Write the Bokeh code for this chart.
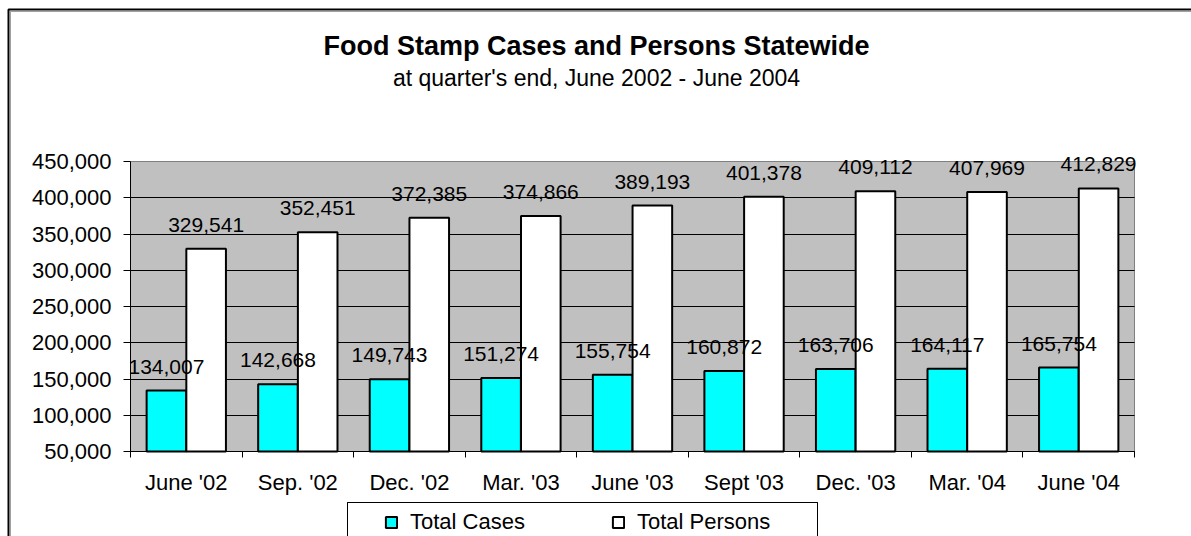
from bokeh.plotting import figure
from bokeh.models import (ColumnDataSource, FixedTicker, NumeralTickFormatter, Label,
                          LabelSet, Legend, LegendItem, PolyAnnotation, Range1d)
from bokeh.core.properties import value
from bokeh.embed import file_html
from bokeh.resources import INLINE

# Quarter-end food stamp counts, statewide
quarters = ["June '02", "Sep. '02", "Dec. '02", "Mar. '03", "June '03",
            "Sept '03", "Dec. '03", "Mar. '04", "June '04"]
total_cases = [134007, 142668, 149743, 151274, 155754, 160872, 163706, 164117, 165754]
total_persons = [329541, 352451, 372385, 374866, 389193, 401378, 409112, 407969, 412829]
y_ticks = [50000, 100000, 150000, 200000, 250000, 300000, 350000, 400000, 450000]
series_names = ["Total Cases", "Total Persons"]
series_colors = ["#00FFFF", "white"]

FONT = "Liberation Sans"
W, H = 1191, 536
# pixel box of the grey plotting area inside the canvas
AREA_L, AREA_R, AREA_T, AREA_B = 130, 1134, 161, 451
BAR_W = 0.355
OFFSET = 0.178

n = len(quarters)
x_lo, x_hi = -0.5, n - 0.5
y_lo, y_hi = y_ticks[0], y_ticks[-1]

# the frame spans the whole canvas; ranges are widened so the
# grey area lands on its pixel box
px_x = (AREA_R - AREA_L) / (x_hi - x_lo)
px_y = (AREA_B - AREA_T) / (y_hi - y_lo)
x_range = Range1d(x_lo - AREA_L / px_x, x_hi + (W - AREA_R) / px_x)
y_range = Range1d(y_lo - (H - AREA_B) / px_y, y_hi + AREA_T / px_y)

idx = list(range(n))
src = ColumnDataSource(dict(
    idx=idx,
    x_cases=[i - OFFSET for i in idx],
    x_persons=[i + OFFSET for i in idx],
    cases=total_cases,
    persons=total_persons,
    cases_txt=[f"{v:,}" for v in total_cases],
    persons_txt=[f"{v:,}" for v in total_persons],
))

p = figure(width=W, height=H, x_range=x_range, y_range=y_range,
           output_backend="svg", toolbar_location=None,
           min_border=0, min_border_left=0, min_border_right=0,
           min_border_top=0, min_border_bottom=0)
p.background_fill_color = "white"
p.border_fill_color = "white"
p.outline_line_color = None

# grey plotting area, beneath the gridlines
p.quad(left=x_lo, right=x_hi, bottom=y_lo, top=y_hi, fill_color="#C0C0C0",
       line_color="#808080", line_width=1, level="image")

# horizontal gridlines only, limited to the plotting area
p.xgrid.visible = False
p.ygrid.ticker = FixedTicker(ticks=y_ticks[:-1])
p.ygrid.cross_bounds = (x_lo, x_hi)
p.ygrid.grid_line_color = "black"
p.ygrid.grid_line_width = 1

# y axis pinned to the left edge of the plotting area
ya = p.yaxis[0]
ya.fixed_location = x_lo
ya.bounds = (y_lo, y_hi)
ya.ticker = FixedTicker(ticks=y_ticks)
ya.formatter = NumeralTickFormatter(format="0,0")
ya.axis_line_color = "black"
ya.major_tick_line_color = "black"
ya.major_tick_out = 7
ya.major_tick_in = 0
ya.minor_tick_line_color = None
ya.major_label_standoff = 12
ya.major_label_text_font = FONT
ya.major_label_text_font_size = "22px"
ya.major_label_text_color = "black"

# x axis pinned to the bottom: labels at group centres, ticks between groups
xa = p.xaxis[0]
xa.fixed_location = y_lo
xa.bounds = (x_lo, x_hi)
xa.ticker = FixedTicker(ticks=idx, minor_ticks=[i - 0.5 for i in range(n + 1)])
xa.major_label_overrides = {i: q for i, q in enumerate(quarters)}
xa.axis_line_color = "black"
xa.major_tick_line_color = None
xa.major_tick_out = 0
xa.major_tick_in = 0
xa.minor_tick_line_color = "black"
xa.minor_tick_out = 6
xa.minor_tick_in = 0
xa.major_label_standoff = 12
xa.major_label_text_font = FONT
xa.major_label_text_font_size = "22px"
xa.major_label_text_color = "black"

r_cases = p.vbar(x="x_cases", top="cases", bottom=y_lo, width=BAR_W, source=src,
                 fill_color=series_colors[0], line_color="black", line_width=2)
r_persons = p.vbar(x="x_persons", top="persons", bottom=y_lo, width=BAR_W, source=src,
                   fill_color=series_colors[1], line_color="black", line_width=2)

for xcol, ycol, tcol in (("x_cases", "cases", "cases_txt"), ("x_persons", "persons", "persons_txt")):
    p.add_layout(LabelSet(x=xcol, y=ycol, text=tcol, source=src, y_offset=17,
                          text_align="center", text_baseline="alphabetic",
                          text_font=value(FONT), text_font_size="21px", text_color="black"))

# chart titles (screen units count up from the bottom-left corner)
p.add_layout(Label(x=596, y=H - 45, x_units="screen", y_units="screen",
                   text="Food Stamp Cases and Persons Statewide",
                   text_align="center", text_baseline="alphabetic", text_font=FONT,
                   text_font_style="bold", text_font_size="27px", text_color="black"))
p.add_layout(Label(x=596, y=H - 77, x_units="screen", y_units="screen",
                   text="at quarter's end, June 2002 - June 2004",
                   text_align="center", text_baseline="alphabetic", text_font=FONT,
                   text_font_size="23px", text_color="black"))


def open_path(points, color, lw):
    """Line through canvas-pixel points (top-left origin); the path walks back
    over itself so no closing edge is drawn."""
    pts = points + points[-2:0:-1]
    return PolyAnnotation(xs=[x for x, _ in pts], ys=[H - y for _, y in pts],
                          xs_units="screen", ys_units="screen",
                          fill_alpha=0, line_color=color, line_alpha=1, line_width=lw)


# outer chart border (left and top edges) with its soft inner shade
p.add_layout(open_path([(10, H + 40), (10, 11), (W + 40, 11)], "#A0A0A0", 1))
p.add_layout(open_path([(8, H + 40), (8, 9), (W + 40, 9)], "black", 2))

# legend frame, open at the bottom where the canvas ends
p.add_layout(open_path([(347, H + 40), (347, 502), (817, 502), (817, H + 40)], "black", 1))

legend = Legend(items=[LegendItem(label=series_names[0], renderers=[r_cases]),
                       LegendItem(label=series_names[1], renderers=[r_persons])],
                orientation="horizontal", location=(384, 1),
                glyph_width=14, glyph_height=14, label_height=14,
                label_standoff=12, spacing=86, padding=0, margin=0,
                border_line_color=None, background_fill_alpha=0,
                label_text_font=FONT, label_text_font_size="22px",
                label_text_color="black", label_text_baseline="middle")
p.add_layout(legend, "center")

open("out.html", "w").write(file_html(p, INLINE))
